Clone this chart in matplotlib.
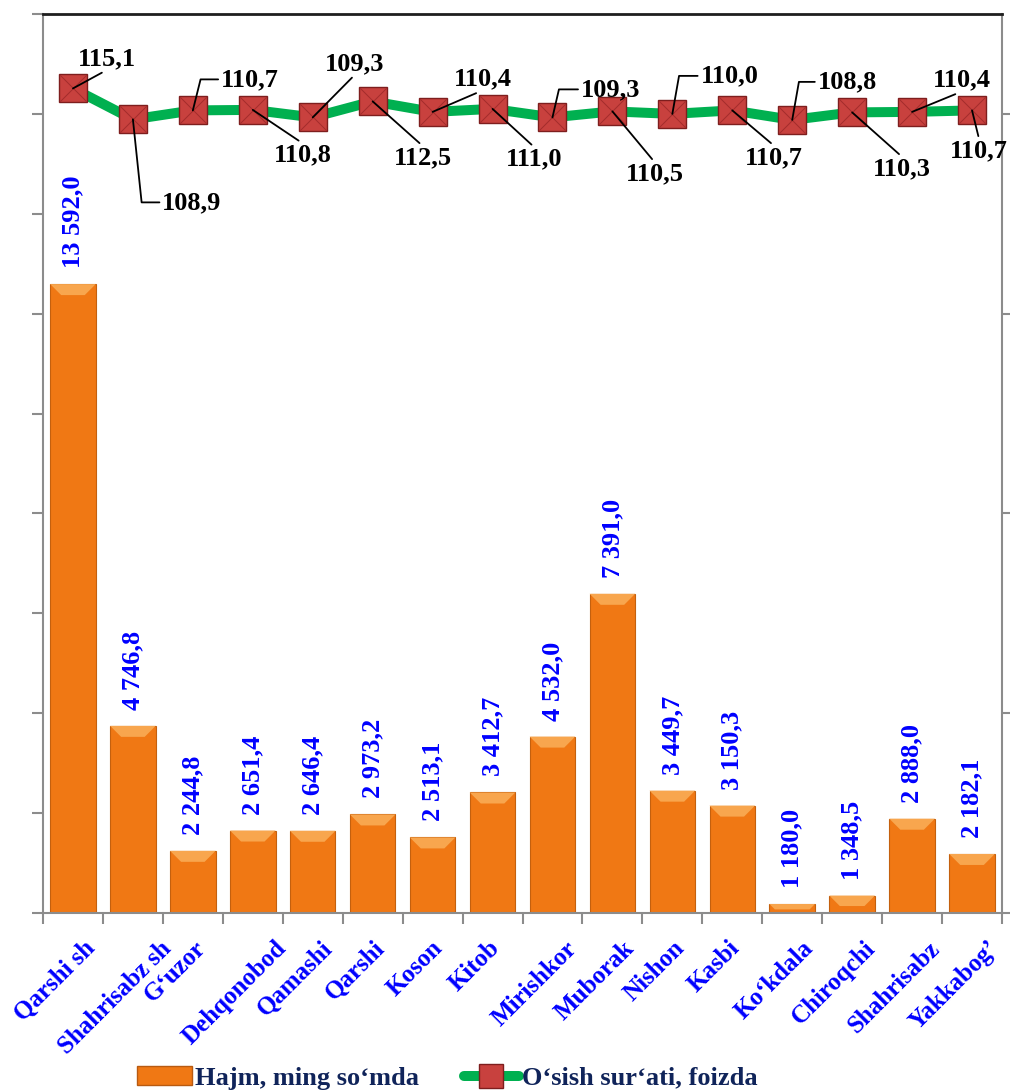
import matplotlib
matplotlib.use('Agg')
import matplotlib.pyplot as plt
from matplotlib.patches import Polygon, Patch
from matplotlib.lines import Line2D
from matplotlib.transforms import ScaledTranslation
import numpy as np

plt.rcParams['font.family'] = ['Liberation Serif', 'DejaVu Serif']
plt.rcParams['font.weight'] = 'bold'

districts = ['Qarshi sh', 'Shahrisabz sh', 'G‘uzor', 'Dehqonobod', 'Qamashi', 'Qarshi',
             'Koson', 'Kitob', 'Mirishkor', 'Muborak', 'Nishon', 'Kasbi', 'Ko‘kdala',
             'Chiroqchi', 'Shahrisabz', 'Yakkabog’']
volume = [13592.0, 4746.8, 2244.8, 2651.4, 2646.4, 2973.2, 2513.1, 3412.7,
          4532.0, 7391.0, 3449.7, 3150.3, 1180.0, 1348.5, 2888.0, 2182.1]
growth = [115.1, 108.9, 110.7, 110.8, 109.3, 112.5, 110.4, 111.0,
          109.3, 110.5, 110.0, 110.7, 108.8, 110.3, 110.4, 110.7]
legend_labels = ['Hajm, ming so‘mda', 'O‘sish sur‘ati, foizda']

# label placement for the growth line: offset in pixels, leader style
label_pos = [(34, 30, 'up'), (59, -83, -84), (57, 31, 76), (50, -45, 'down'),
             (42, 54, 'up'), (50, -56, 'down'), (50, 33, 'up'), (42, -50, 'down'),
             (58, 28, 77), (42, -62, 'down'), (57, 38, 80), (42, -47, 'down'),
             (55, 38, 80), (50, -56, 'down'), (50, 32, 'up'), (7, -40, 'down')]

orange = '#F07814'
gray = '#8C8C8C'

fig = plt.figure(figsize=(10.1, 10.92), dpi=100)
ax = fig.add_axes([43/1010, 179/1092, 959/1010, 899/1092])
ax2 = ax.twinx()

x = np.arange(len(districts))
bw = 0.76
ax.bar(x, volume, width=bw, color=orange, edgecolor='#C4600E', linewidth=0.8, zorder=2)
ax.set_xlim(-0.5, len(districts) - 0.5)
ax.set_ylim(1000, 19000)

# light bevel on top of each bar
inv = ax.transData.inverted()
p0 = inv.transform((0, 0))
p1 = inv.transform((11, 11))
bx, by = p1 - p0
for xi, v in zip(x, volume):
    h = min(by, (v - 1000) * 0.6)
    b = bx * h / by
    x0, x1 = xi - bw / 2, xi + bw / 2
    ax.add_patch(Polygon([(x0, v), (x1, v), (x1 - b, v - h), (x0 + b, v - h)],
                         closed=True, facecolor='#F8A64E', edgecolor='none', zorder=2.5))

ax.set_yticks(np.arange(1000, 19001, 2000))
ax.set_yticklabels([])
ax.tick_params(axis='y', length=8, width=1.5, color=gray, direction='out')
ax.set_xticks(x)
ax.set_xticks(np.arange(-0.5, len(districts), 1), minor=True)
ax.tick_params(axis='x', which='major', length=0, pad=17)
ax.tick_params(axis='x', which='minor', length=8, width=1.5, color=gray)
ax.set_xticklabels(districts, rotation=45, ha='center', va='top', color='#0000FF',
                   fontsize=18, fontweight='bold')
shift = ScaledTranslation(-18 / 100, 0, fig.dpi_scale_trans)
for lab in ax.get_xticklabels():
    lab.set_transform(lab.get_transform() + shift)

for s in ['left', 'bottom']:
    ax.spines[s].set_color(gray)
    ax.spines[s].set_linewidth(1.5)
ax.spines['top'].set_visible(False)
ax.spines['right'].set_visible(False)
for s in ['left', 'bottom']:
    ax2.spines[s].set_visible(False)
ax2.spines['right'].set_color(gray)
ax2.spines['right'].set_linewidth(1.5)
ax2.spines['top'].set_color('#1E1E1E')
ax2.spines['top'].set_linewidth(2)

for xi, v in zip(x, volume):
    txt = f"{v:,.1f}".replace(',', ' ').replace('.', ',')
    ax.annotate(txt, (xi, v), xytext=(0, 16), textcoords='offset pixels', rotation=90,
                ha='center', va='bottom', color='#0000FF', fontsize=19,
                fontweight='bold', zorder=4)

ax2.plot(x, growth, color='#00B050', lw=7.2, marker='s', ms=20, mfc='#C8413E',
         mec='#7E1E1E', mew=1, zorder=3)
ax2.scatter(x, growth, marker='x', s=19 ** 2, c='#A32C2C', linewidths=0.7, zorder=3.5)
ax2.set_ylim(-50, 130)
ax2.set_yticks([-50, -10, 30, 70, 110])
ax2.set_yticklabels([])
ax2.tick_params(axis='y', length=8, width=1.5, color=gray, direction='out')

for xi, v, (dx, dy, kind) in zip(x, growth, label_pos):
    if kind == 'up':
        cs, rel = 'arc3', (0.5, 0)
    elif kind == 'down':
        cs, rel = 'arc3', (0.5, 1)
    else:
        cs, rel = f'angle,angleA=0,angleB={kind},rad=0', (0, 0.5)
    ax2.annotate(f"{v:.1f}".replace('.', ','), (xi, v), xytext=(dx, dy),
                 textcoords='offset pixels', ha='center', va='center',
                 fontsize=19, fontweight='bold', color='black', zorder=5,
                 arrowprops=dict(arrowstyle='-', color='black', lw=1.3,
                                 connectionstyle=cs, relpos=rel,
                                 shrinkA=0, shrinkB=0))

h1 = Patch(facecolor=orange, edgecolor='#B85A10')
h2 = Line2D([], [], color='#00B050', lw=7.2, marker='s', ms=17, mfc='#C8413E',
            mec='#7E1E1E', solid_capstyle='round')
fig.legend([h1, h2], legend_labels, loc='center', bbox_to_anchor=(447/1010, 14/1092),
           ncol=2, frameon=False, labelcolor='#10245A',
           prop=dict(family='Liberation Serif', weight='bold', size=19),
           handlelength=2.1, handletextpad=0.1, columnspacing=1.7,
           borderpad=0, borderaxespad=0)

fig.savefig('out.png', dpi=100)
